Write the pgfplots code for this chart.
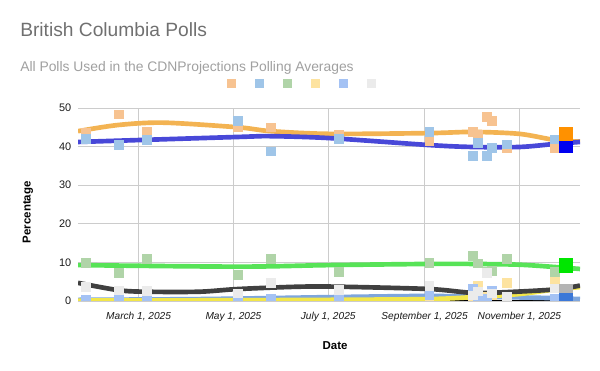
\documentclass[border=0pt]{standalone}
\usepackage{pgfplots}
\pgfplotsset{compat=1.18}
\usepackage{fontspec}
\setmainfont{Liberation Sans}
\definecolor{titlegray}{HTML}{707070}
\definecolor{subgray}{HTML}{A0A0A0}
\definecolor{gridgray}{HTML}{CCCCCC}
\definecolor{ticktext}{HTML}{1A1A1A}
\definecolor{ptorange}{HTML}{F7C391}
\definecolor{ptlblue}{HTML}{9FC5E8}
\definecolor{ptgreen}{HTML}{B0D4A8}
\definecolor{ptyellow}{HTML}{FDE3A0}
\definecolor{ptcblue}{HTML}{A4C2F4}
\definecolor{ptgrey}{HTML}{EBEBEB}
\definecolor{lnorange}{HTML}{F3B352}
\definecolor{lnblue}{HTML}{4848D8}
\definecolor{lngreen}{HTML}{57E357}
\definecolor{lnyellow}{HTML}{F2E64A}
\definecolor{lncblue}{HTML}{7EA6DD}
\definecolor{lndark}{HTML}{404040}
\definecolor{fnorange}{HTML}{FF9100}
\definecolor{fnblue}{HTML}{0000F0}
\definecolor{fngreen}{HTML}{00E600}
\definecolor{fngrey}{HTML}{B4B4B4}
\definecolor{fncblue}{HTML}{3C78D8}
\begin{document}
\begin{tikzpicture}
\path[use as bounding box] (0,0) rectangle (450pt,278.25pt);
\node[anchor=base west, font=\fontsize{14.4}{17}\selectfont, text=titlegray, inner sep=0pt] at (15pt,250.5pt) {British Columbia Polls};
\node[anchor=base west, font=\fontsize{10.4}{12}\selectfont, text=subgray, inner sep=0pt] at (15pt,224.6pt) {All Polls Used in the CDNProjections Polling Averages};
\begin{axis}[at={(58.5pt,52.5pt)}, anchor=south west, scale only axis,
  width=376.5pt, height=144.75pt,
  xmin=20, xmax=343, ymin=0, ymax=50,
  clip marker paths=true,
  xtick={59,120,181,243,304},
  xticklabels={{March 1, 2025},{May 1, 2025},{July 1, 2025},{September 1, 2025},{November 1, 2025}},
  ytick={0,10,...,50},
  /pgf/number format/assume math mode=true,
  grid=major, major grid style={draw=gridgray, line width=0.6pt},
  axis x line*=bottom, axis y line*=left,
  x axis line style={draw=black, line width=0.75pt, -},
  y axis line style={draw=none},
  major tick length=0pt,
  xticklabel style={font=\fontsize{7.6}{9}\selectfont\itshape, text=ticktext, yshift=-5pt},
  yticklabel style={font=\fontsize{8.2}{10}\selectfont, text=ticktext, xshift=-1.5pt},
  xlabel={Date}, ylabel={Percentage},
  xlabel style={font=\fontsize{8.6}{10}\selectfont\bfseries, at={(axis description cs:0.512,-0.233)}, anchor=center},
  ylabel style={font=\fontsize{8.6}{10}\selectfont\bfseries, at={(axis description cs:-0.0996,0.46)}, anchor=center, rotate=0},
  legend columns=6,
  legend style={draw=none, fill=none, at={(axis description cs:0.455,1.13)}, anchor=center,
    /tikz/every even column/.append style={column sep=6.75pt},
    /tikz/every odd column/.append style={column sep=6.75pt},
    nodes={inner sep=0pt}},
  legend image code/.code={\fill (0pt,-3pt) rectangle (6pt,3pt);},
]
% trend lines
\addplot[lncblue, line width=3.5pt, smooth, forget plot] coordinates {(20,0.3) (100,0.5) (182,1.0) (243,1.3) (280,1.1) (320,0.8) (343,0.5)};
\addplot[lnyellow, line width=3.5pt, smooth, forget plot] coordinates {(20,0.1) (123,0.2) (182,0.3) (246,0.5) (274,1.0) (304,1.8) (327,3.0) (343,3.6)};
\addplot[lndark, line width=3.5pt, smooth, forget plot] coordinates {(20,4.7) (46,2.8) (64,2.4) (98,2.4) (123,3.1) (162,3.7) (188,3.7) (246,3.1) (274,2.1) (296,2.3) (327,3.0) (343,4.0)};
\addplot[lngreen, line width=3.5pt, smooth, forget plot] coordinates {(20,9.3) (123,8.9) (182,9.3) (246,9.6) (274,9.6) (304,9.4) (327,8.8) (343,8.3)};
\addplot[lnorange, line width=3.5pt, smooth, forget plot] coordinates {(20,44) (46,45.6) (75,46.2) (123,45) (144,44) (182,43.3) (246,43.5) (274,43.8) (304,43.3) (327,41.7) (343,41.3)};
\addplot[lnblue, line width=3.5pt, smooth, forget plot] coordinates {(20,41.2) (123,42.5) (144,42.7) (182,42.2) (246,40.4) (274,39.9) (304,39.9) (327,40.7) (343,41.2)};
% poll points
\addplot[only marks, mark=square*, mark size=3.3pt, color=ptorange] coordinates {(25,43.5) (46,48.4) (64,43.8) (123,45) (144,45) (188,43) (246,41.6) (274,43.8) (277,43) (283,47.7) (286,46.6) (296,39.8) (327,39.8)};
\addlegendentry{}
\addplot[only marks, mark=square*, mark size=3.3pt, color=ptlblue] coordinates {(25,42) (46,40.5) (64,41.8) (123,46.6) (144,38.8) (188,42) (246,43.8) (274,37.6) (277,41) (283,37.6) (286,39.7) (296,40.6) (327,41.9)};
\addlegendentry{}
\addplot[only marks, mark=square*, mark size=3.3pt, color=ptgreen] coordinates {(25,10) (46,7.3) (64,10.9) (123,6.7) (144,10.9) (188,7.6) (246,9.9) (274,11.7) (277,9.8) (283,7.5) (286,7.8) (296,10.9) (327,7.5)};
\addlegendentry{}
\addplot[only marks, mark=square*, mark size=3.3pt, color=ptyellow] coordinates {(25,0.1) (46,0.1) (64,0.1) (123,0.2) (144,0.2) (188,0.1) (246,0.3) (274,0.5) (277,4.1) (283,1.0) (286,1.5) (296,4.8) (327,5.0)};
\addlegendentry{}
\addplot[only marks, mark=square*, mark size=3.3pt, color=ptcblue] coordinates {(25,0.4) (46,0.4) (64,0.4) (123,0.6) (144,0.6) (188,1.2) (246,1.5) (274,3.1) (277,1) (283,0.5) (286,2.8) (296,1.0) (327,0.6)};
\addlegendentry{}
\addplot[only marks, mark=square*, mark size=3.3pt, color=ptgrey] coordinates {(25,3.7) (46,2.8) (64,2.6) (123,2.0) (144,4.7) (188,3.0) (246,4.0) (274,1.5) (277,2.5) (283,7.3) (286,2.0) (296,1.0) (327,3.3)};
\addlegendentry{}
% latest average markers
\addplot[only marks, mark=square*, mark size=5pt, color=fngrey, forget plot] coordinates {(334,2.5)};
\addplot[only marks, mark=square*, mark size=5pt, color=fncblue, forget plot] coordinates {(334,0.4)};
\addplot[only marks, mark=square*, mark size=5pt, color=fngreen, forget plot] coordinates {(334,9.3)};
\addplot[only marks, mark=square*, mark size=5pt, color=fnblue, forget plot] coordinates {(334,40.2)};
\addplot[only marks, mark=square*, mark size=5pt, color=fnorange, forget plot] coordinates {(334,43.3)};
\end{axis}
\end{tikzpicture}
\end{document}
